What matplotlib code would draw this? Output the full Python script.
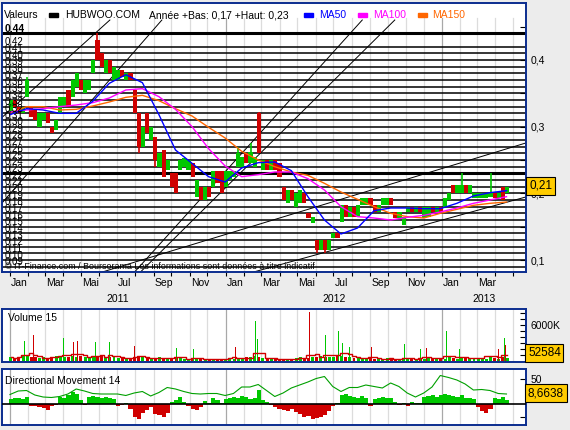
import matplotlib.pyplot as plt
import matplotlib.transforms as mtransforms
from matplotlib.patches import Rectangle
import numpy as np
import pandas as pd

plt.rcParams['font.family'] = ['Liberation Sans', 'DejaVu Sans']

W, H = 570, 430
BG = '#ececec'
FRAME = '#0b2d8f'
GREEN = '#00c800'
RED = '#d00000'
START = pd.Timestamp('2011-01-01')

# weekly candles, week k centred on day 7k+1 (day 0 = 1 Jan 2011)
opens = [.32, .34, .33, .32, .345, .33, .325, .30, .31, .32, .30, .295, .32, .33, .355, .345,
         .36, .37, .35, .355, .38, .43, .41, .38, .40, .37, .37, .385, .37, .38, .355, .32,
         .27, .32, .28, .285, .24, .265, .235, .23, .23, .235, .24, .235, .245, .195, .21, .19,
         .21, .21, .233, .233, .21, .22, .225, .24, .24, .26, .245, .24, .32, .235, .25, .235,
         .25, .245, .21, .185, .205, .18, .185, .20, .17, .155, .13, .115, .13, .115, .133, .14,
         .157, .183, .165, .18, .165, .183, .183, .193, .183, .172, .183, .183, .193, .172, .163, .153,
         .172, .18, .172, .18, .163, .165, .18, .172, .18, .18, .19, .212, .20, .20, .212, .20,
         .193, .193, .193, .193, .195, .20, .193, .21, .20]
closes = [.34, .33, .32, .33, .37, .315, .31, .32, .32, .305, .29, .31, .345, .345, .33, .37,
          .38, .355, .37, .37, .40, .40, .39, .40, .38, .39, .385, .375, .38, .37, .32, .27,
          .30, .29, .30, .25, .26, .225, .25, .21, .20, .25, .253, .25, .225, .22, .19, .21,
          .195, .233, .215, .20, .233, .233, .233, .26, .255, .245, .262, .255, .26, .25, .235, .25,
          .235, .225, .19, .205, .19, .20, .205, .185, .163, .165, .115, .13, .115, .13, .14, .133,
          .183, .165, .18, .165, .183, .193, .193, .183, .172, .183, .193, .193, .183, .163, .172, .165,
          .18, .172, .18, .172, .18, .18, .172, .18, .172, .193, .20, .20, .212, .212, .20, .212,
          .20, .20, .20, .20, .20, .193, .20, .19, .21]
wick_weeks = [4, 21, 31, 35, 55, 58, 60, 74, 76, 109, 116]
wick_top = [.375, .44, .32, .285, .27, .275, .322, .13, .13, .23, .23]
wick_bottom = [.345, .40, .26, .24, .24, .245, .26, .11, .11, .20, .195]

ma_days = list(range(0, 841, 28))
ma50 = [.318, .327, .325, .32, .32, .338, .365, .378, .366, .318, .265, .245, .225, .217, .238, .246,
        .247, .234, .195, .16, .139, .148, .174, .178, .178, .177, .177, .185, .196, .201, .204]
ma100 = [.322, .325, .327, .33, .3325, .336, .343, .355, .357, .345, .326, .30, .267, .241, .225, .228,
         .232, .232, .222, .205, .18, .165, .163, .16, .164, .167, .172, .178, .185, .19, .195]
ma150 = [.3205, .33, .33, .325, .326, .331, .337, .344, .347, .339, .327, .316, .299, .283, .263, .25,
         .24, .232, .227, .215, .202, .191, .18, .17, .165, .163, .17, .176, .182, .185, .187]

levels = np.arange(0.09, 0.425, 0.01)
bold_levels = [0.44, 0.23]

# trend lines: start day, start price, end day, end price
tl_d0 = [-14, -14, 211, 221, 157, 413]
tl_p0 = [0.3135, 0.185, 0.0822, 0.0822, 0.0822, 0.0822]
tl_d1 = [169, 257, 596, 651, 873, 873]
tl_p1 = [0.46, 0.46, 0.46, 0.46, 0.2756, 0.1946]

# weekly volume (K)
vol_base = [600, 500, 700, 900, 800, 700, 600, 500, 600, 500, 700, 800, 900, 700, 600, 800, 700, 900,
            600, 700, 800, 600, 900, 700, 600, 800,
            500, 600, 400, 500, 700, 900, 600, 500, 400, 500, 600, 400, 500, 400, 600, 500, 400, 300,
            400, 500, 300, 400, 300, 400, 300, 400,
            400, 500, 400, 300, 400, 600, 700, 800, 600, 500, 400, 500, 400, 300, 400, 300, 400, 500,
            600, 400, 500, 700, 600, 800, 700, 600,
            700, 800, 900, 700, 600, 500, 600, 500, 400, 500, 400, 300, 400, 500, 400, 300, 400, 300,
            400, 300, 400, 300, 400, 500, 400, 500,
            500, 400, 600, 500, 400, 500, 600, 400, 500, 400, 500, 400, 600, 500, 400, 600, 500]
spike_days = [25, 39, 91, 107, 115, 144, 168, 210, 281, 311, 382, 416, 418, 506, 533, 555, 562, 574,
              611, 668, 695, 704, 739, 761, 807, 826, 836, 838]
spike_vol = [3360, 4370, 3800, 3200, 3360, 3200, 3200, 2500, 2100, 2000, 2250, 6700, 3600, 8240, 4300,
             5000, 3000, 2250, 2250, 2800, 2000, 2100, 5000, 2000, 4800, 2000, 3900, 2600]
spike_col = ['g', 'r', 'g', 'r', 'r', 'g', 'g', 'r', 'g', 'g', 'r', 'g', 'g', 'r', 'g',
             'g', 'g', 'g', 'r', 'g', 'g', 'r', 'g', 'g', 'g', 'r', 'g', 'r']

# directional movement
dm_days = list(range(0, 841, 14))
dm_line = [19, 26, 27, 18, 14, 13, 15, 20, 30, 26, 21, 20, 20, 20, 17, 22, 25, 16, 23, 33,
           30, 25, 21, 20, 21, 21, 17, 21, 34, 34, 39, 27, 15, 22, 32, 38, 44, 51, 55, 35,
           25, 33, 33, 38, 35, 32, 42, 35, 22, 14, 22, 34, 57, 53, 48, 40, 28, 29, 27, 21, 20]
dm_hist = [10, 12, 12, 10, 14, -3, -4, -5, -8, -12, -4, -2, 14, 12, 18, 24, 20, 8, -2, 14,
           16, 14, 13, 15, 12, 10, -3, -2, 2, -10, -26, -30, -18, -12, -6, -20, -22, -26, -18, 4,
           8, 14, 4, -4, -10, -12, -6, 6, 3, 12, 8, 3, 10, 12, 14, 13, 16, 14, 10, 12,
           29, 8, 4, -2, -6, -10, -12, -14, -10, -16, -20, -26, -24, -30, -28, -26, -22, -14, -3, 2,
           18, 20, 16, 14, 13, 16, 12, -3, 10, 12, 14, 13, 12, 4, -2, 2, -3, 4, 2, 3,
           14, 16, 18, 15, 19, 20, 18, 16, 14, 18, 13, 12, 10, -6, -14, -18, -10, 12, 10, 14, 9]

month_names = {1: 'Jan', 3: 'Mar', 5: 'Mai', 7: 'Jul', 9: 'Sep', 11: 'Nov'}


def box(x0, y0, x1, y1):
    return [x0 / W, 1 - y1 / H, (x1 - x0) / W, (y1 - y0) / H]


fig = plt.figure(figsize=(5.7, 4.3), dpi=100, facecolor=BG)
XL = (-13.5, 873)
months = pd.date_range('2011-01-01', '2013-05-01', freq='MS')
month_days = [(m - START).days for m in months]


def month_grid(a, top=1.0):
    for m, d in zip(months, month_days):
        a.axvline(d, 0, top, color='#a8a8a8' if m.month == 1 else '#dcdcdc', lw=0.9, zorder=0)


def frame(a):
    for s in a.spines.values():
        s.set_color(FRAME)
        s.set_linewidth(1.4)


# ---- price panel
ax = fig.add_axes(box(2, 3, 526, 272))
ax.set_xlim(XL)
ax.set_ylim(0.082, 0.4855)
month_grid(ax, (0.463 - 0.082) / (0.4855 - 0.082))
ax.hlines(levels, XL[0], XL[1], color='black', lw=1.1, zorder=1)
ax.hlines(bold_levels, XL[0], XL[1], color='black', lw=2.2, zorder=1)
for d0, p0, d1, p1 in zip(tl_d0, tl_p0, tl_d1, tl_p1):
    ax.plot([d0, d1], [p0, p1], color='black', lw=0.7, zorder=2)

week_days = 7 * np.arange(len(closes)) + 1
o = np.array(opens)
c = np.array(closes)
up = c >= o
colors = np.where(up, GREEN, RED)
body = np.maximum(np.abs(c - o), 0.003)
ax.bar(week_days, body, bottom=np.minimum(o, c), width=7, color=colors, lw=0, zorder=3)
ax.vlines(week_days[wick_weeks], wick_bottom, wick_top, colors=colors[wick_weeks], lw=1.2, zorder=3)

ax.plot(ma_days, ma150, color='#ff6600', lw=1, zorder=4)
ax.plot(ma_days, ma100, color='#ff00ff', lw=1, zorder=4)
ax.plot(ma_days, ma50, color='#0000ff', lw=1, zorder=4)

ytr = mtransforms.blended_transform_factory(ax.transAxes, ax.transData)
for lv in levels:
    ax.text(0.005, lv, f'{lv:.2f}'.replace('.', ','), transform=ytr, fontsize=7,
            va='bottom', ha='left', zorder=5)
ax.text(0.005, 0.44, '0,44', transform=ytr, fontsize=7.5, fontweight='bold',
        va='bottom', ha='left', zorder=5)
ax.text(0.005, 0.022, '© IT-Finance.com / Boursorama Les informations sont données à titre indicatif',
        transform=ax.transAxes, fontsize=6.4, va='center', ha='left', zorder=5)

ax.yaxis.tick_right()
yt = np.arange(0.10, 0.46, 0.05)
ax.set_yticks(yt)
ax.set_yticklabels([f'{t:.1f}'.replace('.', ',') if round(t * 100) % 10 == 0 else '' for t in yt])
ax.tick_params(axis='y', direction='in', length=4, labelsize=7.5, pad=3)
ax.set_xticks(month_days)
ax.tick_params(axis='x', direction='out', length=3, labelbottom=False)
frame(ax)

# ---- volume panel
vax = fig.add_axes(box(2, 309, 526, 362))
vax.set_xlim(XL)
vax.set_ylim(-167, 8667)
month_grid(vax)
vb = np.array(vol_base)
vax.bar(week_days, vb, width=5, color=colors, lw=0, zorder=2)
vax.bar(spike_days, spike_vol, width=1.6, color=[GREEN if s == 'g' else RED for s in spike_col],
        lw=0, zorder=2)
week_avg = vb.astype(float).copy()
for d, v in zip(spike_days, spike_vol):
    week_avg[min(d // 7, len(week_avg) - 1)] += v / 5
vol_ma = pd.Series(week_avg).rolling(3, min_periods=1).mean()
vax.plot(week_days, vol_ma, color=RED, lw=1, drawstyle='steps-mid', zorder=3)
vax.yaxis.tick_right()
vax.set_yticks(range(1000, 8001, 1000))
vax.set_yticklabels(['6000K' if t == 6000 else '' for t in range(1000, 8001, 1000)])
vax.tick_params(axis='y', direction='in', length=4, labelsize=7.5, pad=3)
vax.set_xticks([])
frame(vax)

# ---- directional movement panel
dax = fig.add_axes(box(2, 369, 526, 425))
dax.set_xlim(XL)
dax.set_ylim(-42, 70)
month_grid(dax)
dax.bar(week_days, dm_hist, width=7, color=[GREEN if v > 0 else RED for v in dm_hist], lw=0, zorder=2)
dax.axhline(0, color='black', lw=1.2, zorder=3)
dax.plot(dm_days, dm_line, color='#00a000', lw=0.8, zorder=4)
dax.yaxis.tick_right()
dax.set_yticks([-25, 50])
dax.set_yticklabels(['', '50'])
dax.tick_params(axis='y', direction='in', length=4, labelsize=7.5, pad=3)
dax.set_xticks([])
frame(dax)

# ---- overlay for header, date labels and value boxes (pixel coordinates)
ov = fig.add_axes([0, 0, 1, 1], zorder=10)
ov.set_xlim(0, W)
ov.set_ylim(H, 0)
ov.axis('off')
ov.patch.set_alpha(0)

hdr = 7.5
ov.text(4, 15, 'Valeurs', fontsize=hdr, va='center')
ov.add_patch(Rectangle((49, 13), 9, 4, color='black'))
ov.text(65, 15, 'HUBWOO.COM', fontsize=hdr, va='center')
ov.text(149, 15, 'Année +Bas: 0,17 +Haut: 0,23', fontsize=hdr, va='center')
ov.add_patch(Rectangle((304, 13), 9, 4, color='#0000ff'))
ov.text(319, 15, 'MA50', fontsize=hdr, va='center', color='#0000ff')
ov.add_patch(Rectangle((358, 13), 9, 4, color='#ff00ff'))
ov.text(373, 15, 'MA100', fontsize=hdr, va='center', color='#ff00ff')
ov.add_patch(Rectangle((418, 13), 9, 4, color='#ff6600'))
ov.text(432, 15, 'MA150', fontsize=hdr, va='center', color='#ff6600')

ov.text(8, 318, 'Volume 15', fontsize=hdr, va='center')
ov.text(5, 381, 'Directional Movement 14', fontsize=hdr, va='center')

xtr = mtransforms.blended_transform_factory(ax.transData, ov.transData)
for m, d in zip(months, month_days):
    if m.month in month_names and XL[0] <= d <= XL[1] - 45:
        ax.text(d + 2, 283, month_names[m.month], transform=xtr, fontsize=7.5,
                ha='left', va='center', clip_on=False)
for yr in (2011, 2012, 2013):
    a = max(XL[0], (pd.Timestamp(f'{yr}-01-01') - START).days)
    b = min(XL[1], (pd.Timestamp(f'{yr + 1}-01-01') - START).days)
    ax.text((a + b) / 2, 299, str(yr), transform=xtr, fontsize=7.5, ha='center', va='center',
            clip_on=False)

yellow = dict(boxstyle='square,pad=0.22', fc='#ffcc00', ec='black', lw=0.8)
ov.text(529, 186, '0,21', fontsize=8.5, va='center', ha='left', bbox=yellow)
ov.text(528, 353, '52584', fontsize=8.5, va='center', ha='left', bbox=yellow)
ov.text(528, 393, '8,6638', fontsize=8.5, va='center', ha='left', bbox=yellow)

fig.savefig('out.png', dpi=100, facecolor=BG)
